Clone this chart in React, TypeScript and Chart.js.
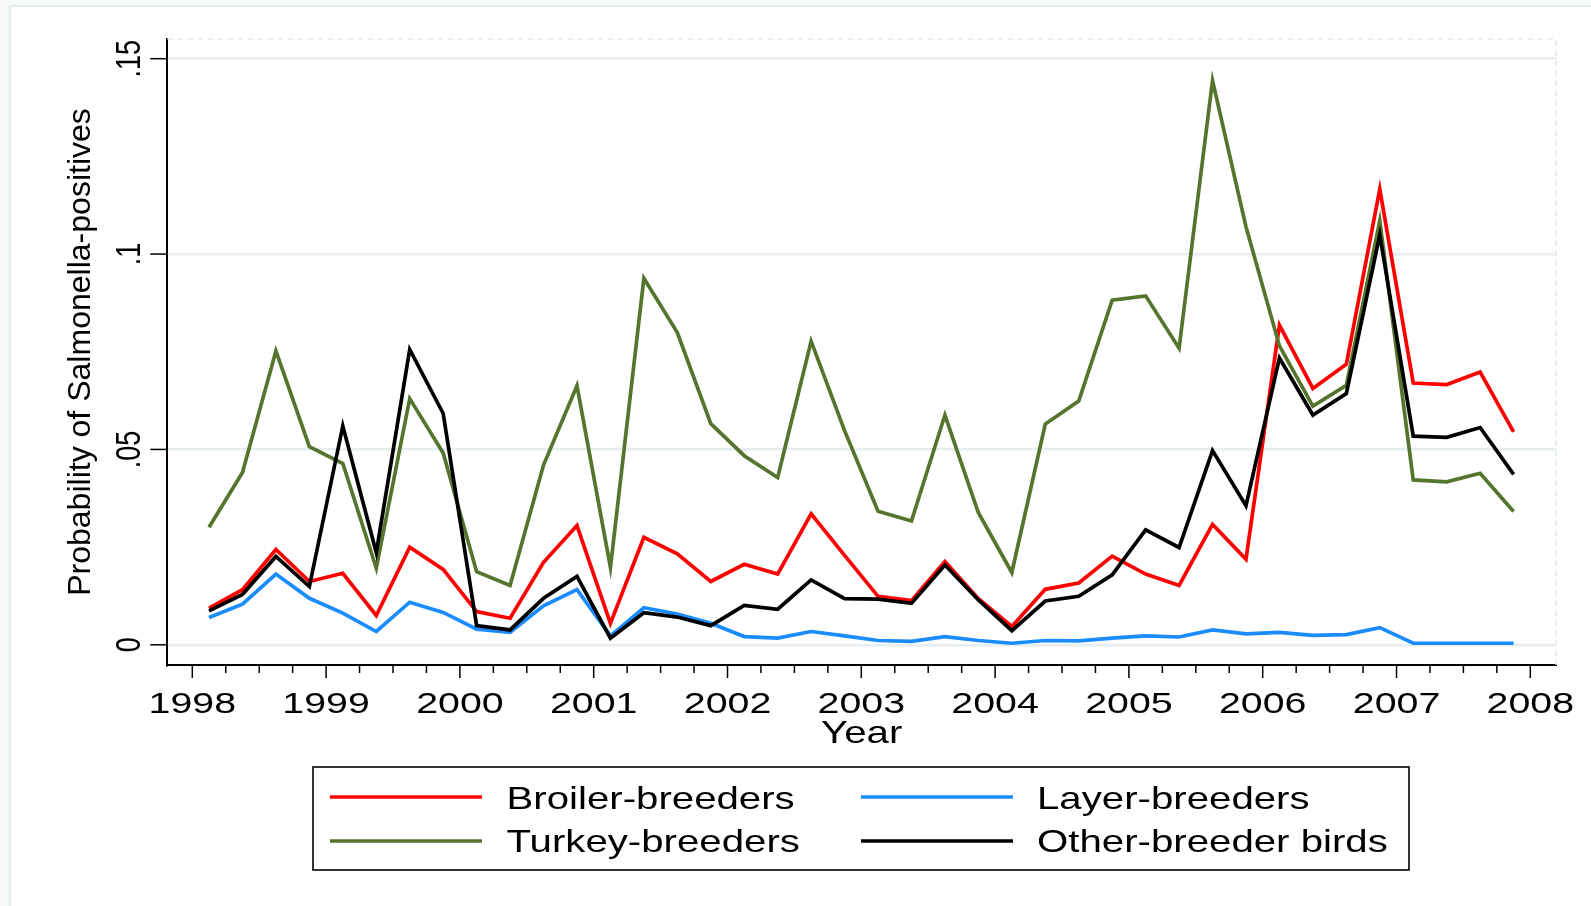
import { useEffect, useRef } from "react";
import { Chart, registerables } from "chart.js";

Chart.register(...registerables);

// Quarterly surveillance periods, 1998 Q1 – 2007 Q4 (plotted at quarter midpoints)
const years = [1998, 1999, 2000, 2001, 2002, 2003, 2004, 2005, 2006, 2007];
const quarterMidpoints = [0.125, 0.375, 0.625, 0.875];

// Axis ticks
const axisYears = [1998, 1999, 2000, 2001, 2002, 2003, 2004, 2005, 2006, 2007, 2008];
const yTickValues = [0, 0.05, 0.1, 0.15];
const yTickLabels = ["0", ".05", ".1", ".15"];

const xTitle = "Year";
const yTitle = "Probability of Salmonella-positives";

const seriesNames = ["Broiler-breeders", "Layer-breeders", "Turkey-breeders", "Other-breeder birds"];
const seriesColors = ["#FF0000", "#1A8CFF", "#55752F", "#000000"];

const broiler = [
  0.0094, 0.0141, 0.0244, 0.0162, 0.0183, 0.0075, 0.025, 0.0193, 0.0085, 0.0068,
  0.0211, 0.0305, 0.0055, 0.0275, 0.0233, 0.0162, 0.0206, 0.0181, 0.0335, 0.0229,
  0.0124, 0.0113, 0.0213, 0.0118, 0.0047, 0.0142, 0.0158, 0.0227, 0.0181, 0.0152,
  0.0308, 0.0219, 0.0818, 0.0656, 0.0718, 0.1166, 0.067, 0.0666, 0.0698, 0.0545,
];
const layer = [
  0.007, 0.0104, 0.0181, 0.0119, 0.0081, 0.0034, 0.0109, 0.0083, 0.004, 0.0032,
  0.01, 0.0141, 0.0023, 0.0095, 0.0079, 0.0055, 0.0021, 0.0017, 0.0034, 0.0023,
  0.0011, 0.0009, 0.0021, 0.0011, 0.0004, 0.0011, 0.001, 0.0017, 0.0023, 0.002,
  0.0038, 0.0028, 0.0032, 0.0024, 0.0026, 0.0044, 0.0004, 0.0004, 0.0004, 0.0004,
];
const turkey = [
  0.0301, 0.0441, 0.0752, 0.0507, 0.0464, 0.0196, 0.063, 0.0491, 0.0187, 0.0152,
  0.046, 0.0663, 0.0198, 0.0938, 0.0799, 0.0566, 0.0484, 0.0428, 0.0777, 0.0548,
  0.0342, 0.0317, 0.0588, 0.0338, 0.0185, 0.0565, 0.0624, 0.0882, 0.0893, 0.0759,
  0.1444, 0.107, 0.0765, 0.0611, 0.0664, 0.1085, 0.0422, 0.0417, 0.0439, 0.0341,
];
const otherBirds = [
  0.0087, 0.0129, 0.0226, 0.0149, 0.056, 0.0236, 0.0756, 0.0592, 0.0049, 0.0038,
  0.0119, 0.0175, 0.0017, 0.0082, 0.0071, 0.0049, 0.0101, 0.0091, 0.0166, 0.0118,
  0.0117, 0.0106, 0.0204, 0.0115, 0.0036, 0.0112, 0.0124, 0.0179, 0.0294, 0.0249,
  0.0497, 0.0356, 0.0734, 0.0588, 0.0643, 0.1049, 0.0534, 0.0531, 0.0556, 0.0436,
];

const FONT = '"Liberation Sans", Arial, Helvetica, sans-serif';
const W = 1591;
const H = 906;

const periods: number[] = [];
years.forEach((yr) => quarterMidpoints.forEach((q) => periods.push(yr + q)));

const allSeries = [broiler, layer, turkey, otherBirds];

type TextOpts = {
  align?: CanvasTextAlign;
  baseline?: CanvasTextBaseline;
  rot?: number;
  sx?: number;
  sy?: number;
};

function drawText(ctx: CanvasRenderingContext2D, s: string, x: number, y: number, size: number, o: TextOpts = {}) {
  ctx.save();
  ctx.translate(x, y);
  if (o.rot) ctx.rotate(o.rot);
  ctx.scale(o.sx ?? 1, o.sy ?? 1);
  ctx.font = `${size}px ${FONT}`;
  ctx.textAlign = o.align ?? "center";
  ctx.textBaseline = o.baseline ?? "alphabetic";
  ctx.fillStyle = "#000";
  ctx.fillText(s, 0, 0);
  ctx.restore();
}

function seg(ctx: CanvasRenderingContext2D, x1: number, y1: number, x2: number, y2: number) {
  ctx.beginPath();
  ctx.moveTo(x1, y1);
  ctx.lineTo(x2, y2);
  ctx.stroke();
}

// Plot-region outline, axis ticks, labels and the boxed legend
const stataDecor = {
  id: "stataDecor",
  beforeDatasetsDraw(chart: any) {
    const { ctx, chartArea: a } = chart;
    ctx.save();
    ctx.strokeStyle = "#E2ECEE";
    ctx.lineWidth = 1.5;
    ctx.setLineDash([6, 4]);
    ctx.beginPath();
    ctx.moveTo(a.left, a.top);
    ctx.lineTo(a.right, a.top);
    ctx.lineTo(a.right, a.bottom);
    ctx.stroke();
    ctx.restore();
  },
  afterDraw(chart: any) {
    const { ctx, chartArea: a } = chart;
    const xs = chart.scales.x;
    const ys = chart.scales.y;
    ctx.save();
    ctx.strokeStyle = "#000";
    ctx.lineWidth = 1.5;

    // y axis ticks and rotated labels
    yTickValues.forEach((v, i) => {
      const py = ys.getPixelForValue(v);
      seg(ctx, a.left - 17, py, a.left, py);
      drawText(ctx, yTickLabels[i], 139.5, py, 27, { rot: -Math.PI / 2, sx: 1, sy: 1.32 });
    });

    // y axis title
    drawText(ctx, yTitle, 90, (a.top + a.bottom) / 2, 30.5, { rot: -Math.PI / 2, sx: 1.05, sy: 1 });

    // x axis: quarterly minor ticks, yearly major ticks and labels
    const first = axisYears[0];
    const last = axisYears[axisYears.length - 1];
    for (let k = 0; k <= (last - first) * 4; k++) {
      const v = first + k / 4;
      const px = xs.getPixelForValue(v);
      const major = k % 4 === 0;
      seg(ctx, px, a.bottom, px, a.bottom + (major ? 13 : 8));
    }
    axisYears.forEach((yr) => {
      drawText(ctx, String(yr), xs.getPixelForValue(yr), 713, 29.8, { sx: 1.32 });
    });
    drawText(ctx, xTitle, (a.left + a.right) / 2, 743, 30.5, { sx: 1.32 });

    // legend
    const box = { left: 313, top: 767, right: 1409, bottom: 870 };
    ctx.lineWidth = 1.6;
    ctx.strokeStyle = "#000";
    ctx.strokeRect(box.left, box.top, box.right - box.left, box.bottom - box.top);
    const cols = [
      { l0: 330, l1: 482, tx: 506.5 },
      { l0: 861, l1: 1013, tx: 1037 },
    ];
    const rows = [
      { ly: 797, ty: 809 },
      { ly: 841, ty: 852 },
    ];
    seriesNames.forEach((name, i) => {
      const c = cols[i % 2];
      const r = rows[Math.floor(i / 2)];
      ctx.strokeStyle = seriesColors[i];
      ctx.lineWidth = 3.3;
      seg(ctx, c.l0, r.ly, c.l1, r.ly);
      drawText(ctx, name, c.tx, r.ty, 30.7, { align: "left", sx: 1.31 });
    });
    ctx.restore();
  },
};

export default function App() {
  const canvasRef = useRef<HTMLCanvasElement | null>(null);

  useEffect(() => {
    const canvas = canvasRef.current;
    if (!canvas) return;
    const datasets = seriesNames.map((name, i) => ({
      label: name,
      data: periods.map((p, j) => ({ x: p, y: allSeries[i][j] })),
      borderColor: seriesColors[i],
      backgroundColor: seriesColors[i],
      borderWidth: 3.7,
      pointRadius: 0,
      tension: 0,
      fill: false,
      order: seriesNames.length - 1 - i,
    }));

    const chart = new Chart(canvas, {
      type: "line",
      data: { datasets },
      options: {
        responsive: false,
        animation: false,
        devicePixelRatio: 1,
        events: [],
        layout: { padding: { left: 0, top: 39, right: 35, bottom: 0 } },
        plugins: { legend: { display: false }, tooltip: { enabled: false } },
        scales: {
          x: {
            type: "linear",
            min: 1997.8132,
            max: 2008.192,
            ticks: { display: false },
            grid: { display: false },
            border: { display: true, color: "#000", width: 2 },
            afterFit: (s: any) => {
              s.height = H - 665;
            },
          },
          y: {
            type: "linear",
            min: -0.00517,
            max: 0.15504,
            afterBuildTicks: (s: any) => {
              s.ticks = yTickValues.map((v) => ({ value: v }));
            },
            ticks: { display: false },
            grid: { color: "#E6EEF1", lineWidth: 2.5, drawTicks: false },
            border: { display: true, color: "#000", width: 2 },
            afterFit: (s: any) => {
              s.width = 167.3;
            },
          },
        },
      },
      plugins: [stataDecor],
    });
    return () => chart.destroy();
  }, []);

  return (
    <div
      style={{
        position: "absolute",
        left: 0,
        top: 0,
        width: W,
        height: H,
        overflow: "hidden",
        background: "#F7F8F8",
      }}
    >
      <div
        style={{
          position: "absolute",
          left: 9,
          top: 5,
          width: W + 20,
          height: H + 20,
          background: "#FFFFFF",
          border: "2px solid #E3EDEF",
        }}
      />
      <canvas ref={canvasRef} width={W} height={H} style={{ position: "absolute", left: 0, top: 0 }} />
    </div>
  );
}
